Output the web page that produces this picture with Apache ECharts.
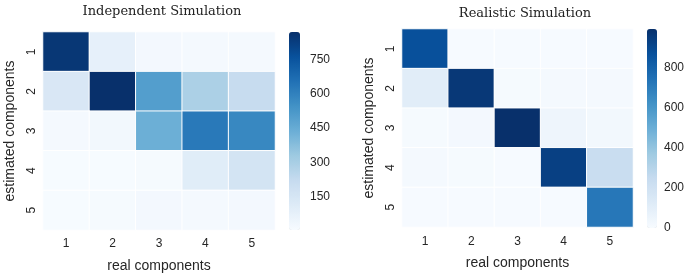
<!DOCTYPE html>
<html>
<head>
<meta charset="utf-8">
<script src="https://cdn.jsdelivr.net/npm/echarts@6/dist/echarts.min.js"></script>
<style>
    html, body { margin: 0; padding: 0; background: #fff; }
    #main { width: 685px; height: 273px; }
</style>
</head>
<body>
<div id="main"></div>
<script>
// tick labels of the two heatmaps
var realLabels = ['1', '2', '3', '4', '5'];
var estLabels = ['1', '2', '3', '4', '5'];

// rows = estimated components 1..5, columns = real components 1..5
var independent = [
    [850, 75, 20, 15, 15],
    [135, 873, 500, 290, 215],
    [15, 25, 435, 630, 580],
    [5, 5, 10, 100, 160],
    [5, 10, 20, 15, 20]
];
var realistic = [
    [870, 5, 5, 5, 5],
    [110, 960, 10, 15, 15],
    [10, 20, 990, 45, 25],
    [15, 10, 5, 930, 230],
    [5, 5, 5, 5, 720]
];

// colorbar ranges and ticks
var indepRange = [2, 873];
var indepTicks = [150, 300, 450, 600, 750];
var realRange = [0, 990];
var realTicks = [0, 200, 400, 600, 800];

(function() {
    var myChart = echarts.init(document.getElementById('main'));

    // matplotlib Blues
    var blues = ['#f7fbff', '#deebf7', '#c6dbef', '#9ecae1', '#6baed6',
        '#4292c6', '#2171b5', '#08519c', '#08306b'];

    function toCells(matrix) {
        var out = [];
        for (var r = 0; r < matrix.length; r++) {
            for (var c = 0; c < matrix[r].length; c++) {
                out.push([c, r, matrix[r][c]]);
            }
        }
        return out;
    }

    var tickFont = { fontFamily: 'Liberation Sans', fontSize: 12, color: '#262626' };
    var nameFont = { fontFamily: 'Liberation Sans', fontSize: 14, color: '#262626' };

    // outerBoundsMode none: keep grids exactly where they are put
    var grids = [
        { left: 43, top: 32, width: 232, height: 198, outerBoundsMode: 'none' },
        { left: 402, top: 29, width: 231, height: 198, outerBoundsMode: 'none' },
        // colorbar label axes
        { left: 289, top: 32, width: 11, height: 198, outerBoundsMode: 'none' },
        { left: 647, top: 29, width: 10, height: 199, outerBoundsMode: 'none' }
    ];

    function catX(idx, margin) {
        return {
            type: 'category', gridIndex: idx, data: realLabels,
            name: 'real components', nameLocation: 'middle', nameGap: 29,
            nameTextStyle: nameFont,
            axisLine: { show: false }, axisTick: { show: false },
            axisLabel: Object.assign({ margin: margin }, tickFont),
            splitArea: { show: false }
        };
    }
    function catY(idx) {
        return {
            type: 'category', gridIndex: idx, data: estLabels, inverse: true,
            name: 'estimated components', nameLocation: 'middle', nameGap: 26,
            nameTextStyle: nameFont,
            axisLine: { show: false }, axisTick: { show: false },
            axisLabel: Object.assign({ margin: 5, rotate: 90 }, tickFont)
        };
    }
    function barY(idx, range, ticks, margin) {
        return {
            type: 'value', gridIndex: idx, position: 'right',
            min: range[0], max: range[1],
            axisLine: { show: false }, axisTick: { show: false },
            splitLine: { show: false },
            axisLabel: Object.assign({ margin: margin, customValues: ticks }, tickFont)
        };
    }

    var option = {
        animation: false,
        title: [{
            text: 'Independent Simulation', left: 157, top: 0, textAlign: 'center',
            textStyle: { fontFamily: 'DejaVu Serif', fontSize: 13, fontWeight: 'normal', color: '#222' }
        }, {
            text: 'Realistic Simulation', left: 520, top: 2, textAlign: 'center',
            textStyle: { fontFamily: 'DejaVu Serif', fontSize: 13, fontWeight: 'normal', color: '#222' }
        }],
        grid: grids,
        xAxis: [catX(0, 8), catX(1, 9),
            { type: 'value', gridIndex: 2, show: false },
            { type: 'value', gridIndex: 3, show: false }],
        yAxis: [catY(0), catY(1),
            barY(2, indepRange, indepTicks, 10),
            barY(3, realRange, realTicks, 7)],
        visualMap: [{
            type: 'continuous', seriesIndex: 0,
            min: indepRange[0], max: indepRange[1],
            calculable: false, left: 289, top: 32, padding: 0,
            itemWidth: 11, itemHeight: 198,
            inRange: { color: blues }
        }, {
            type: 'continuous', seriesIndex: 1,
            min: realRange[0], max: realRange[1],
            calculable: false, left: 647, top: 29, padding: 0,
            itemWidth: 10, itemHeight: 199,
            inRange: { color: blues }
        }],
        series: [{
            type: 'heatmap', xAxisIndex: 0, yAxisIndex: 0,
            data: toCells(independent),
            itemStyle: { borderColor: '#fff', borderWidth: 1 }
        }, {
            type: 'heatmap', xAxisIndex: 1, yAxisIndex: 1,
            data: toCells(realistic),
            itemStyle: { borderColor: '#fff', borderWidth: 1 }
        }]
    };

    myChart.setOption(option);
})();
</script>
</body>
</html>
